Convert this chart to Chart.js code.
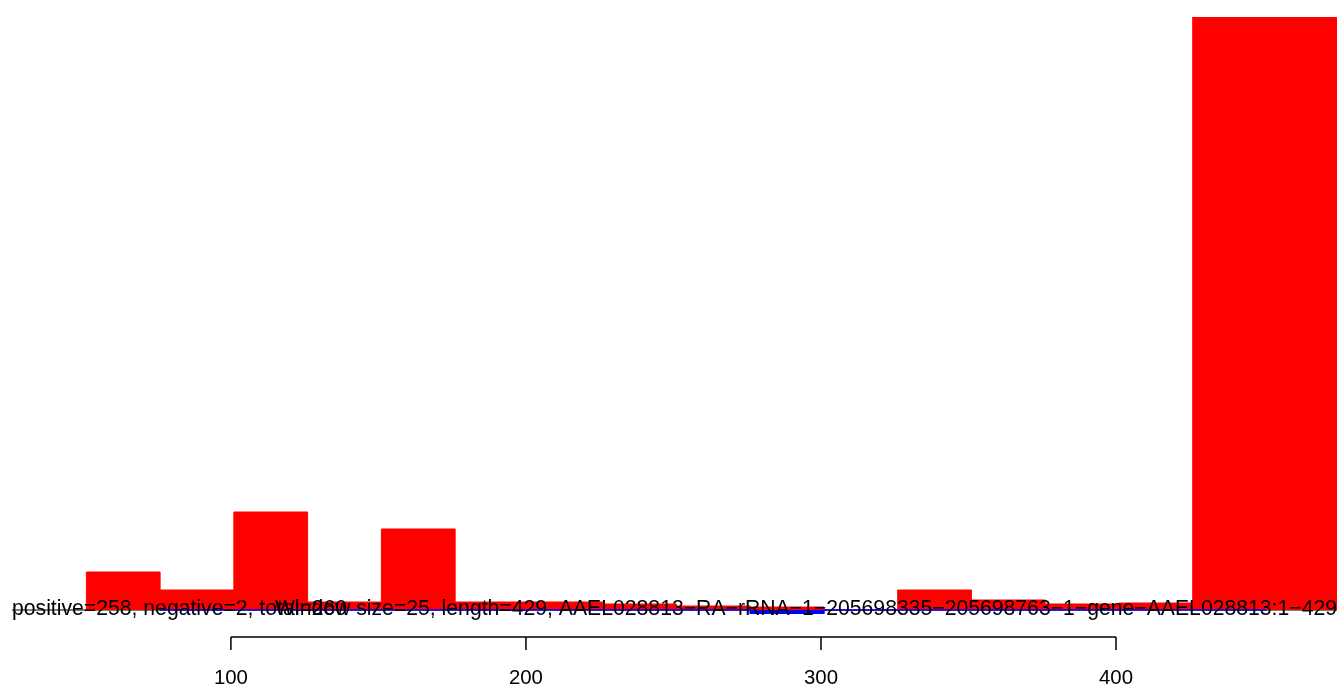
<!DOCTYPE html>
<html>
<head>
<meta charset="utf-8">
<script src="https://cdn.jsdelivr.net/npm/chart.js@4.4.1/dist/chart.umd.min.js"></script>
<style>
html,body{margin:0;padding:0;background:#ffffff;overflow:hidden;}
#wrap{width:1337px;height:686px;position:relative;}
canvas{display:block;}
</style>
</head>
<body>
<div id="wrap"><canvas id="c" width="1337" height="686"></canvas></div>
<script>
// ---- data ----
const windowSize = 25;
const windowStarts = [51, 76, 101, 126, 151, 176, 201, 226, 251, 276, 301, 326, 351, 376, 401, 426];
const positiveCounts = [9.5, 5, 24.5, 2, 20.25, 2, 2, 1.5, 1, 0.75, 0, 5, 2.5, 1.5, 1.75, 148.25];
const negativeStarts = [76, 101, 126, 151, 176, 201, 226, 251, 276, 301, 326, 351, 376, 401, 426];
const negativeCounts = [0, 0, 0, 0, 0, 0, 0, 0, -1, 0, 0, 0, 0, 0, 0];
const lastWindowEnd = 476;
const xAxisRange = [25.8, 474.9];
const yAxisRange = [-1, 148.25];
const xTickValues = [100, 200, 300, 400];
const leftLabel = "positive=258, negative=2, total=260";
const rightLabel = "Window size=25, length=429, AAEL028813\u2212RA\u2212rRNA\u22121\u2212205698335\u2212205698763\u22121\u2212gene\u2212AAEL028813:1\u2212429";

function stepPoints(starts, values, endOfLast) {
  const pts = [{x: starts[0], y: 0}];
  for (let i = 0; i < starts.length; i++) pts.push({x: starts[i], y: values[i]});
  pts.push({x: endOfLast, y: values[values.length - 1]});
  pts.push({x: endOfLast, y: 0});
  return pts;
}

const FONT = '"Liberation Sans", Arial, Helvetica, sans-serif';

const baselinePlugin = {
  id: 'baseline',
  beforeDatasetsDraw(chart) {
    const {ctx, chartArea, scales} = chart;
    const y0 = scales.y.getPixelForValue(0);
    ctx.save();
    ctx.strokeStyle = '#000000';
    ctx.lineWidth = 1;
    ctx.beginPath();
    ctx.moveTo(chartArea.left, y0);
    ctx.lineTo(chartArea.right, y0);
    ctx.stroke();
    ctx.restore();
  }
};

const labelsPlugin = {
  id: 'labels',
  afterDatasetsDraw(chart) {
    const {ctx, chartArea, scales} = chart;
    const y0 = scales.y.getPixelForValue(0);
    ctx.save();
    ctx.fillStyle = '#000000';
    ctx.font = '21.2px ' + FONT;
    ctx.textBaseline = 'alphabetic';
    ctx.textAlign = 'left';
    ctx.fillText(leftLabel, chartArea.left, y0 + 5);
    ctx.textAlign = 'right';
    ctx.fillText(rightLabel, chartArea.right, y0 + 5);
    ctx.restore();
  }
};

const rAxisPlugin = {
  id: 'rAxis',
  afterDraw(chart) {
    const {ctx, scales} = chart;
    const xs = scales.x;
    const yAxis = scales.y.getPixelForValue(0) + 27;
    const first = xs.getPixelForValue(xTickValues[0]);
    const last = xs.getPixelForValue(xTickValues[xTickValues.length - 1]);
    ctx.save();
    ctx.strokeStyle = '#000000';
    ctx.lineWidth = 1.5;
    ctx.beginPath();
    ctx.moveTo(first, yAxis);
    ctx.lineTo(last, yAxis);
    xTickValues.forEach(v => {
      const px = xs.getPixelForValue(v);
      ctx.moveTo(px, yAxis);
      ctx.lineTo(px, yAxis + 13);
    });
    ctx.stroke();
    ctx.fillStyle = '#000000';
    ctx.font = '20.4px ' + FONT;
    ctx.textAlign = 'center';
    ctx.textBaseline = 'alphabetic';
    xTickValues.forEach(v => {
      ctx.fillText(String(v), xs.getPixelForValue(v), yAxis + 47);
    });
    ctx.restore();
  }
};

new Chart(document.getElementById('c'), {
  type: 'line',
  data: {
    datasets: [
      {
        label: 'negative',
        data: stepPoints(negativeStarts, negativeCounts, negativeStarts[negativeStarts.length - 1] + windowSize),
        stepped: 'before',
        borderColor: '#0000ff',
        backgroundColor: '#0000ff',
        borderWidth: 1.5,
        fill: 'origin',
        pointRadius: 0,
        tension: 0,
        order: 0
      },
      {
        label: 'positive',
        data: stepPoints(windowStarts, positiveCounts, lastWindowEnd),
        stepped: 'before',
        borderColor: '#ff0000',
        backgroundColor: '#ff0000',
        borderWidth: 1,
        fill: 'origin',
        pointRadius: 0,
        tension: 0,
        order: 1
      }
    ]
  },
  options: {
    responsive: false,
    animation: false,
    devicePixelRatio: 1,
    events: [],
    layout: {padding: {left: 12, right: 0, top: 17, bottom: 72}},
    scales: {
      x: {type: 'linear', min: xAxisRange[0], max: xAxisRange[1], display: false},
      y: {type: 'linear', min: yAxisRange[0], max: yAxisRange[1], display: false}
    },
    plugins: {legend: {display: false}, tooltip: {enabled: false}}
  },
  plugins: [baselinePlugin, labelsPlugin, rAxisPlugin]
});
</script>
</body>
</html>
